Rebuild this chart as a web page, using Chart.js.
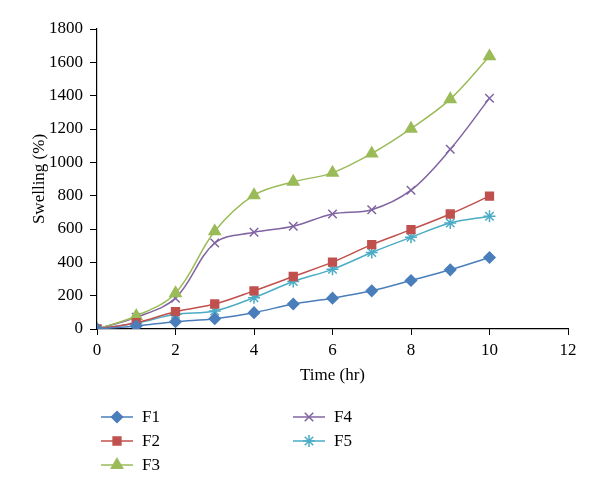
<!DOCTYPE html>
<html>
<head>
<meta charset="utf-8">
<script src="https://cdn.jsdelivr.net/npm/chart.js@4/dist/chart.umd.min.js"></script>
<style>
  html, body { margin: 0; padding: 0; background: #fff; }
  #wrap { width: 600px; height: 496px; }
</style>
</head>
<body>
<div id="wrap"><canvas id="chartSwelling" width="600" height="496"></canvas></div>
<script>
// data
const tiempos = [0, 1, 2, 3, 4, 5, 6, 7, 8, 9, 10]
const f1 = [0, 18, 44, 62, 98, 150, 185, 229, 291, 355, 429]
const f2 = [0, 38, 104, 150, 229, 315, 401, 506, 596, 690, 797]
const f3 = [0, 78, 215, 586, 803, 883, 937, 1053, 1202, 1379, 1636]
const f4 = [0, 70, 185, 516, 580, 616, 690, 716, 833, 1078, 1385]
const f5 = [0, 34, 88, 108, 188, 285, 358, 459, 550, 636, 676]
const etiquetas = ['F1', 'F2', 'F3', 'F4', 'F5']
const yTicks = [0, 200, 400, 600, 800, 1000, 1200, 1400, 1600, 1800]

const series = [
    { label: etiquetas[0], data: f1, color: '#4a7ebb', estilo: 'rectRot', radio: 5.5 },
    { label: etiquetas[1], data: f2, color: '#c0504d', estilo: 'rect', radio: 5.5 },
    { label: etiquetas[2], data: f3, color: '#9bbb59', estilo: 'triangle', radio: 6.5 },
    { label: etiquetas[3], data: f4, color: '#8064a2', estilo: 'crossRot', radio: 6 },
    { label: etiquetas[4], data: f5, color: '#4bacc6', estilo: 'star', radio: 6 },
]

const fuente = "'Liberation Serif', 'DejaVu Serif', serif"

const leyenda = {
    id: 'leyendaColumnas',
    afterDraw(chart) {
        const ctx = chart.ctx
        const pos = [
            [101, 417], [101, 441], [101, 465],
            [293, 417], [293, 441]
        ]
        ctx.save()
        series.forEach((s, i) => {
            const [x, y] = pos[i]
            ctx.strokeStyle = s.color
            ctx.fillStyle = s.color
            ctx.lineWidth = 1.5
            ctx.beginPath()
            ctx.moveTo(x, y)
            ctx.lineTo(x + 32, y)
            ctx.stroke()
            Chart.helpers.drawPoint(ctx, {
                pointStyle: s.estilo, radius: s.radio, rotation: 0, borderWidth: 1.5
            }, x + 16, y)
            ctx.fillStyle = '#000'
            ctx.font = "17px " + fuente
            ctx.textBaseline = 'middle'
            ctx.textAlign = 'left'
            ctx.fillText(s.label, x + 41, y + 1)
        })
        ctx.restore()
    }
}

const context = document.getElementById('chartSwelling').getContext('2d')

const chartSwelling = new Chart(context, {
    type: 'line',
    data: {
        datasets: series.map(s => ({
            label: s.label,
            data: tiempos.map((t, i) => ({ x: t, y: s.data[i] })),
            borderColor: s.color,
            backgroundColor: s.color,
            borderWidth: 1.5,
            pointStyle: s.estilo,
            pointRadius: s.radio,
            pointBorderWidth: 1.5,
            tension: 0.35,
            fill: false
        }))
    },
    options: {
        responsive: false,
        animation: false,
        layout: { padding: { left: 0, right: 32, top: 29, bottom: 110 } },
        plugins: {
            legend: { display: false },
            tooltip: { enabled: false }
        },
        scales: {
            x: {
                type: 'linear',
                min: 0,
                max: 12,
                afterFit: (scale) => { scale.height = 57 },
                ticks: {
                    stepSize: 2,
                    color: '#000',
                    padding: 5,
                    maxRotation: 0,
                    font: { family: fuente, size: 17 }
                },
                grid: {
                    drawOnChartArea: false,
                    drawTicks: true,
                    tickLength: 6,
                    color: '#000'
                },
                border: { color: '#000', width: 1.2 },
                title: {
                    display: true,
                    text: 'Time (hr)',
                    color: '#000',
                    padding: 0,
                    font: { family: fuente, size: 17 }
                }
            },
            y: {
                min: 0,
                max: 1800,
                afterFit: (scale) => { scale.width = 97 },
                afterBuildTicks: (scale) => { scale.ticks = yTicks.map(v => ({ value: v })) },
                ticks: {
                    color: '#000',
                    padding: 7,
                    callback: (v) => String(v),
                    font: { family: fuente, size: 17 }
                },
                grid: {
                    drawOnChartArea: false,
                    drawTicks: true,
                    tickLength: 7,
                    color: '#000'
                },
                border: { color: '#000', width: 1.2 },
                title: {
                    display: true,
                    text: 'Swelling (%)',
                    color: '#000',
                    padding: { top: 29, bottom: 0 },
                    font: { family: fuente, size: 17 }
                }
            }
        }
    },
    plugins: [leyenda]
})
</script>
</body>
</html>
